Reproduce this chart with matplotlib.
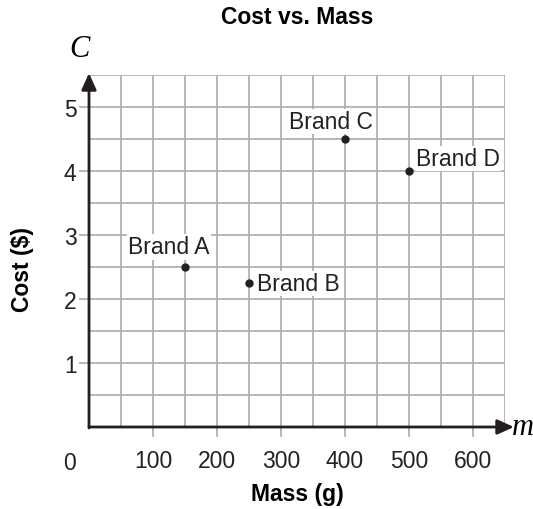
import matplotlib.pyplot as plt

plt.rcParams['font.family'] = ['Liberation Sans', 'DejaVu Sans']

# data
brands = ['Brand A', 'Brand B', 'Brand C', 'Brand D']
mass = [150, 250, 400, 500]
cost = [2.5, 2.25, 4.5, 4.0]
# label offsets in points (dx, dy, ha)
label_pos = [(-11.5, 14.5, 'center'), (6, -0.5, 'left'), (-10, 12.5, 'center'), (5, 8.8, 'left')]

x_ticks = [100, 200, 300, 400, 500, 600]
y_ticks = [1, 2, 3, 4, 5]

FS = 16.5

fig = plt.figure(figsize=(5.33, 5.10), dpi=100)
ax = fig.add_axes([89 / 533, 1 - 428 / 510, 416 / 533, 352 / 510])
ax.set_xlim(0, 650)
ax.set_ylim(0, 5.5)

# grid
for gx in range(50, 651, 50):
    ax.axvline(gx, color='#aaaaaa', lw=1.2, zorder=1)
for gy in [i * 0.5 for i in range(1, 12)]:
    ax.axhline(gy, color='#aaaaaa', lw=1.2, zorder=1)

for s in ax.spines.values():
    s.set_visible(False)

ax.set_xticks(x_ticks)
ax.set_yticks(y_ticks)
ax.set_xticklabels([str(t) for t in x_ticks])
ax.set_yticklabels([str(t) for t in y_ticks])
ax.tick_params(axis='x', length=7, width=1.2, color='#aaaaaa', pad=9, labelsize=FS, labelcolor='#222222')
ax.tick_params(axis='y', length=7, width=1.2, color='#aaaaaa', pad=2, labelsize=FS, labelcolor='#222222')
ax.text(-0.048, -0.1, '0', transform=ax.transAxes, ha='center', va='center', fontsize=FS, color='#222222')

# axes with arrows
arrow = dict(arrowstyle='-|>,head_length=1.0,head_width=0.45', color='#231f20', lw=2, shrinkA=0, shrinkB=0)
ax.annotate('', xy=(664, 0), xytext=(0, 0), arrowprops=arrow, annotation_clip=False, zorder=4)
ax.annotate('', xy=(0, 5.53), xytext=(0, -0.015), arrowprops=arrow, annotation_clip=False, zorder=4)

ax.text(1.042, 0.0, 'm', transform=ax.transAxes, ha='center', va='center', fontsize=22,
        family='Liberation Serif', style='italic')
ax.text(-0.024, 1.075, 'C', transform=ax.transAxes, ha='center', va='center', fontsize=22,
        family='Liberation Serif', style='italic')

# points
ax.plot(mass, cost, 'o', color='#231f20', ms=5, zorder=5, clip_on=False)
for b, x, y, (dx, dy, ha) in zip(brands, mass, cost, label_pos):
    ax.annotate(b, xy=(x, y), xytext=(dx, dy), textcoords='offset points', ha=ha, va='center',
                fontsize=FS, color='#222222', zorder=6,
                bbox=dict(boxstyle='square,pad=0.05', fc='white', ec='none'))

fig.text(297 / 533, 1 - 18 / 510, 'Cost vs. Mass', ha='center', va='center', fontsize=FS, fontweight='bold')
fig.text(297 / 533, 1 - 495 / 510, 'Mass (g)', ha='center', va='center', fontsize=FS, fontweight='bold')
fig.text(22 / 533, 1 - 270 / 510, 'Cost ($)', ha='center', va='center', fontsize=FS, fontweight='bold', rotation=90)

fig.savefig('out.png', dpi=100)
